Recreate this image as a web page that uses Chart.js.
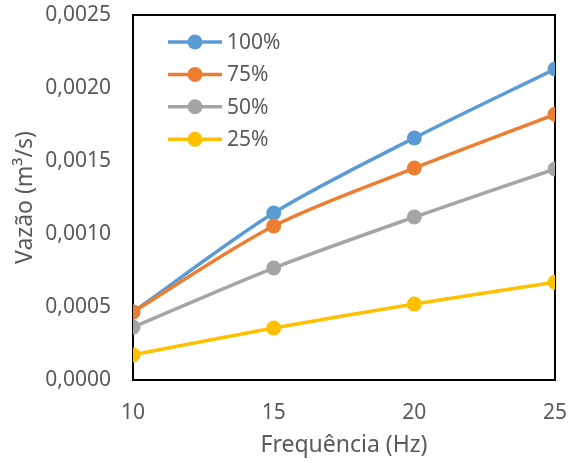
<!DOCTYPE html>
<html>
<head>
<meta charset="utf-8">
<script src="https://cdn.jsdelivr.net/npm/chart.js@4"></script>
<style>
  html, body { margin: 0; padding: 0; background: #fff; }
  #wrap { width: 568px; height: 463px; }
</style>
</head>
<body>
<div id="wrap"><canvas id="grafico" width="568" height="463"></canvas></div>
<script>
const frequencias = [10, 15, 20, 25];
const rotulos = ['100%', '75%', '50%', '25%'];
const vazao100 = [0.000466, 0.001144, 0.001658, 0.00213];
const vazao75 = [0.000466, 0.001055, 0.001452, 0.00182];
const vazao50 = [0.000362, 0.000767, 0.001116, 0.001445];
const vazao25 = [0.000172, 0.000356, 0.00052, 0.00067];
const ticksY = [0, 0.0005, 0.001, 0.0015, 0.002, 0.0025];
const cores = ['#5B9BD5', '#ED7D31', '#A5A5A5', '#FFC000'];
const cinza = '#595959';
const fonte = "'Noto Sans', sans-serif";

const series = [vazao100, vazao75, vazao50, vazao25];

function serie(i) {
    return {
        label: rotulos[i],
        data: frequencias.map((f, j) => ({ x: f, y: series[i][j] })),
        borderColor: cores[i],
        backgroundColor: cores[i],
        borderWidth: 3.5,
        pointRadius: 7.5,
        pointHoverRadius: 7.5,
        pointBorderWidth: 0,
        tension: 0.3,
        order: series.length - i // series posteriores por cima, como no Excel
    };
}

// legenda dentro da area, canto superior esquerdo
const legendaInterna = {
    id: 'legendaInterna',
    afterDraw(chart) {
        const ctx = chart.ctx;
        ctx.save();
        chart.data.datasets.forEach((ds, i) => {
            const y = 42 + i * 32.4;
            ctx.strokeStyle = ds.borderColor;
            ctx.lineWidth = 3.5;
            ctx.beginPath();
            ctx.moveTo(168, y);
            ctx.lineTo(222, y);
            ctx.stroke();
            ctx.fillStyle = ds.backgroundColor;
            ctx.beginPath();
            ctx.arc(195, y, 7.5, 0, Math.PI * 2);
            ctx.fill();
            ctx.fillStyle = cinza;
            ctx.font = '21px ' + fonte;
            ctx.textBaseline = 'middle';
            ctx.textAlign = 'left';
            ctx.fillText(ds.label, 227, y + 1);
        });
        ctx.restore();
    }
};

const moldura = {
    id: 'moldura',
    beforeDatasetsDraw(chart) {
        const a = chart.chartArea;
        const ctx = chart.ctx;
        ctx.save();
        ctx.strokeStyle = '#000';
        ctx.lineWidth = 2;
        ctx.strokeRect(a.left, a.top, a.right - a.left, a.bottom - a.top);
        ctx.restore();
    }
};

new Chart(document.getElementById('grafico').getContext('2d'), {
    type: 'line',
    data: { datasets: [0, 1, 2, 3].map(serie) },
    options: {
        responsive: false,
        animation: false,
        layout: { padding: 0 },
        plugins: {
            legend: { display: false },
            tooltip: { enabled: false }
        },
        scales: {
            x: {
                type: 'linear',
                min: 10,
                max: 25,
                afterBuildTicks: s => { s.ticks = frequencias.map(v => ({ value: v })); },
                afterFit: s => { s.height = 83; s.paddingRight = 13; s.paddingLeft = 0; },
                grid: { display: false, drawTicks: false },
                border: { display: false },
                ticks: { color: cinza, font: { family: fonte, size: 21 }, padding: 20 },
                title: {
                    display: true,
                    text: 'Frequência (Hz)',
                    color: cinza,
                    font: { family: fonte, size: 23 },
                    padding: { top: 0, bottom: 4 }
                }
            },
            y: {
                min: 0,
                max: 0.0025,
                afterBuildTicks: s => { s.ticks = ticksY.map(v => ({ value: v })); },
                afterFit: s => { s.width = 133; s.paddingTop = 15; s.paddingBottom = 0; },
                grid: { display: false, drawTicks: false },
                border: { display: false },
                ticks: {
                    color: cinza,
                    font: { family: fonte, size: 21 },
                    padding: 22,
                    callback: v => v.toFixed(4).replace('.', ',')
                },
                title: {
                    display: true,
                    text: 'Vazão (m³/s)',
                    color: cinza,
                    font: { family: fonte, size: 23 },
                    padding: { top: 12, bottom: 0 }
                }
            }
        }
    },
    plugins: [moldura, legendaInterna]
});
</script>
</body>
</html>
